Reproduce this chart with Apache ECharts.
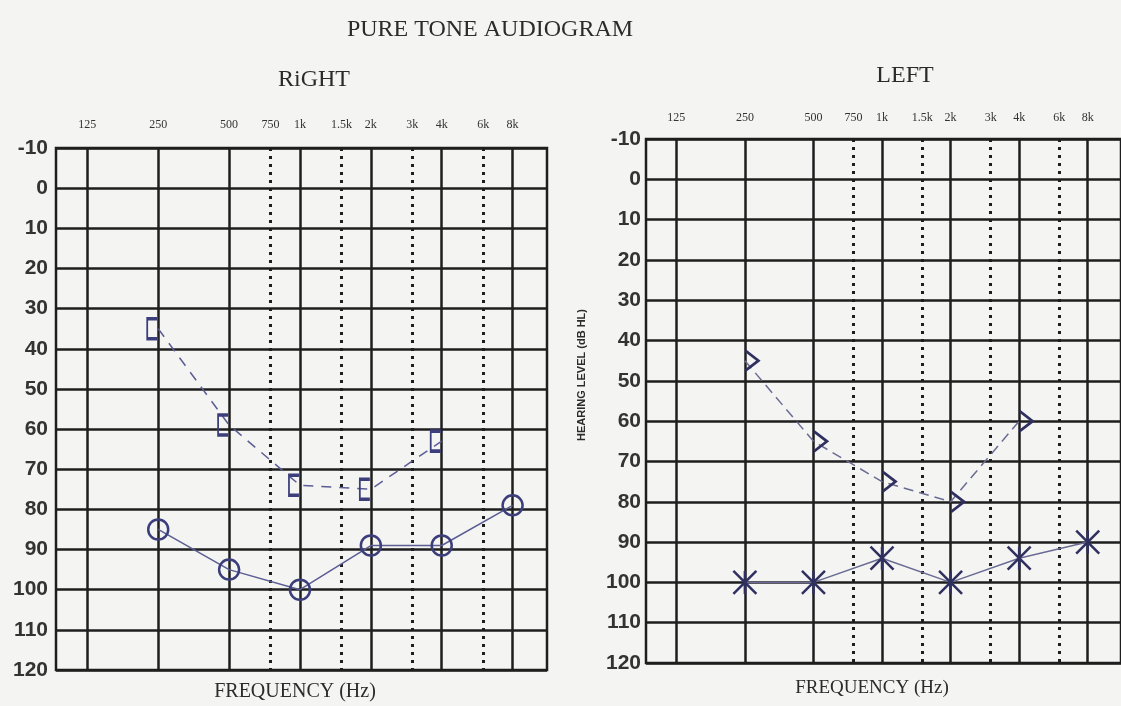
<!DOCTYPE html>
<html><head><meta charset="utf-8">
<script src="https://cdn.jsdelivr.net/npm/echarts@6/dist/echarts.min.js"></script>
<style>html,body{margin:0;padding:0;background:#f4f4f2}#c{width:1121px;height:706px}</style>
</head><body><div id="c"></div>
<script>
// ---- data ----
const freqTicks = [125, 250, 500, 750, 1000, 1500, 2000, 3000, 4000, 6000, 8000];
const freqTickLabels = ['125', '250', '500', '750', '1k', '1.5k', '2k', '3k', '4k', '6k', '8k'];
const octaveFreqs = [125, 250, 500, 1000, 2000, 4000, 8000];
const midOctaveFreqs = [750, 1500, 3000, 6000];

// RIGHT ear
const rightAirFreq = [250, 500, 1000, 2000, 4000, 8000];
const rightAirDb = [85, 95, 100, 89, 89, 79];
const rightBoneFreq = [250, 500, 1000, 2000, 4000];
const rightBoneDb = [35, 59, 74, 75, 63];
// LEFT ear
const leftAirFreq = [250, 500, 1000, 2000, 4000, 8000];
const leftAirDb = [100, 100, 94, 100, 94, 90];
const leftBoneFreq = [250, 500, 1000, 2000, 4000];
const leftBoneDb = [45, 65, 75, 80, 60];

// ---- chart ----
const INK = '#1e1e1e';
const PEN = '#3c3e7c';
const chart = echarts.init(document.getElementById('c'));

function fmtFreq(v) {
  let best = 0, bd = Infinity;
  freqTicks.forEach((f, i) => { const d = Math.abs(Math.log(f) - Math.log(v)); if (d < bd) { bd = d; best = i; } });
  return freqTickLabels[best];
}
function freqAxis(gridIndex, lineValues, dotted, showLabels, margin) {
  return {
    type: 'log', logBase: 2, gridIndex, min: 92, max: 11200, position: 'top',
    axisLine: { show: false },
    axisTick: { show: false, customValues: lineValues },
    splitLine: { show: true, lineStyle: { color: INK, width: dotted ? 3 : 2.5, type: dotted ? [3, 5] : 'solid' } },
    axisLabel: { show: showLabels, customValues: freqTicks, formatter: fmtFreq, margin,
      fontFamily: 'Liberation Serif', fontSize: 12, color: '#333' }
  };
}
function dbAxis(gridIndex, margin) {
  return {
    type: 'value', gridIndex, inverse: true, min: -10, max: 120, interval: 10,
    axisLine: { show: false }, axisTick: { show: false },
    splitLine: { show: true, lineStyle: { color: INK, width: 2.5 } },
    axisLabel: { fontFamily: 'Liberation Sans', fontWeight: 'bold', fontSize: 21, color: '#333', margin }
  };
}
const pts = (fs, ds) => fs.map((f, i) => [f, ds[i]]);
const hollow = { color: 'rgba(0,0,0,0)', borderColor: PEN, borderWidth: 2.5 };

const option = {
  backgroundColor: '#f4f4f2',
  animation: false,
  grid: [
    { left: 56, right: 574, top: 148, bottom: 36, show: true, borderColor: INK, borderWidth: 2.5 },
    { left: 646, right: -2, top: 139, bottom: 43, show: true, borderColor: INK, borderWidth: 2.5 }
  ],
  xAxis: [
    freqAxis(0, octaveFreqs, false, true, 17),
    freqAxis(0, midOctaveFreqs, true, false, 17),
    freqAxis(1, octaveFreqs, false, true, 15),
    freqAxis(1, midOctaveFreqs, true, false, 15)
  ],
  yAxis: [dbAxis(0, 8), dbAxis(1, 5)],
  series: [
    { name: 'Right AC', type: 'line', xAxisIndex: 0, yAxisIndex: 0, data: pts(rightAirFreq, rightAirDb),
      symbol: 'circle', symbolSize: 20, itemStyle: hollow,
      lineStyle: { color: '#5b5d94', width: 1.5 } },
    { name: 'Right BC', type: 'line', xAxisIndex: 0, yAxisIndex: 0, data: pts(rightBoneFreq, rightBoneDb),
      symbol: 'path://M10,0L0,0L0,20L10,20', symbolSize: [10, 20], symbolOffset: [-6, 0], itemStyle: hollow,
      lineStyle: { color: '#5b5d94', width: 1.5, type: [10, 8] } },
    { name: 'Left AC', type: 'line', xAxisIndex: 2, yAxisIndex: 1, data: pts(leftAirFreq, leftAirDb),
      symbol: 'path://M0,0L20,20M20,0L0,20M10,0L10,20', symbolSize: 23,
      itemStyle: { color: 'rgba(0,0,0,0)', borderColor: '#2f3060', borderWidth: 2.5 },
      lineStyle: { color: '#6b6c94', width: 1.5 } },
    { name: 'Left BC', type: 'line', xAxisIndex: 2, yAxisIndex: 1, data: pts(leftBoneFreq, leftBoneDb),
      symbol: 'path://M0,0L10,10L0,20', symbolSize: [13, 20], symbolOffset: [7, 0],
      itemStyle: { color: 'rgba(0,0,0,0)', borderColor: '#2f3060', borderWidth: 2.5 },
      lineStyle: { color: '#6b6c94', width: 1.5, type: [10, 6] } }
  ],
  graphic: [
    { type: 'text', x: 490, y: 30, style: { text: 'PURE TONE AUDIOGRAM', fontFamily: 'Liberation Serif', fontSize: 24, fill: '#2b2b2b', align: 'center', verticalAlign: 'middle' } },
    { type: 'text', x: 314, y: 80, style: { text: 'RiGHT', fontFamily: 'Liberation Serif', fontSize: 24, fill: '#2b2b2b', align: 'center', verticalAlign: 'middle' } },
    { type: 'text', x: 905, y: 76, style: { text: 'LEFT', fontFamily: 'Liberation Serif', fontSize: 24, fill: '#2b2b2b', align: 'center', verticalAlign: 'middle' } },
    { type: 'text', x: 295, y: 692, style: { text: 'FREQUENCY (Hz)', fontFamily: 'Liberation Serif', fontSize: 20, fill: '#2b2b2b', align: 'center', verticalAlign: 'middle' } },
    { type: 'text', x: 872, y: 688, style: { text: 'FREQUENCY (Hz)', fontFamily: 'Liberation Serif', fontSize: 19, fill: '#2b2b2b', align: 'center', verticalAlign: 'middle' } },
    { type: 'text', x: 582, y: 375, rotation: Math.PI / 2, style: { text: 'HEARING LEVEL (dB HL)', fontFamily: 'Liberation Sans', fontWeight: 'bold', fontSize: 11, fill: '#2b2b2b', align: 'center', verticalAlign: 'middle' } }
  ]
};
chart.setOption(option);
</script>
</body></html>
